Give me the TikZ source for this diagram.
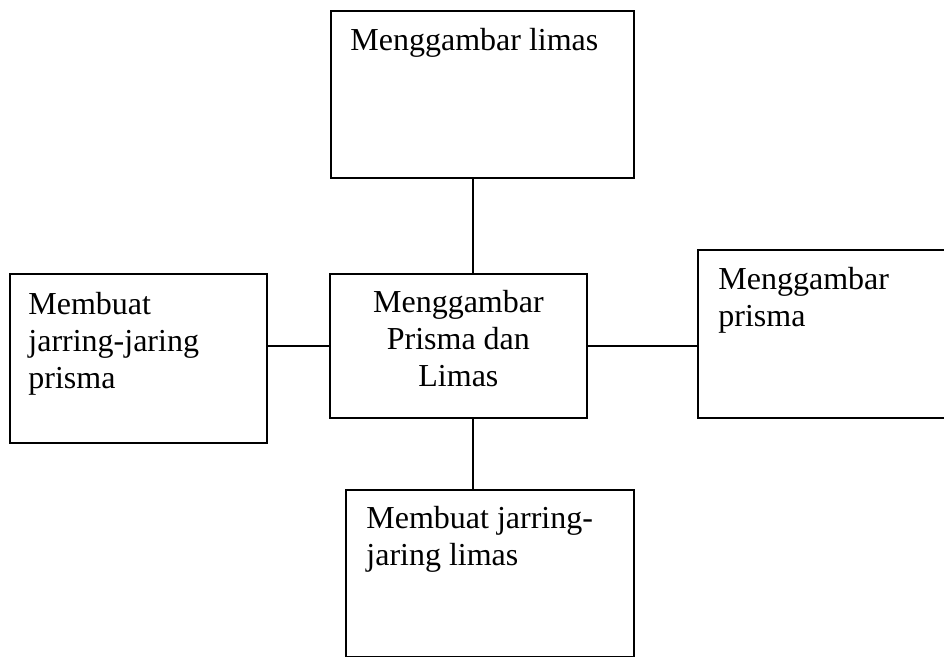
\documentclass[tikz,border=0pt]{standalone}
\usepackage{fontspec}
\setmainfont{Liberation Serif}
\usetikzlibrary{positioning, calc}

\tikzset{
  box/.style={draw, line width=0.9pt, inner sep=0pt, anchor=north west},
  boxtext/.style={font=\fontsize{16}{18.5}\selectfont, inner sep=0pt, align=left, anchor=base west},
  link/.style={draw, line width=0.9pt}
}

\begin{document}
\begin{tikzpicture}[x=0.5pt, y=-0.5pt]
\useasboundingbox (0,0) rectangle (944,657);
% boxes
\node[box, minimum width=151.5pt, minimum height=83.5pt] (top) at (330,10) {};
\node[box, minimum width=128.5pt, minimum height=84.5pt] (left) at (9,273) {};
\node[box, minimum width=128.5pt, minimum height=72pt] (centre) at (329,273) {};
\node[box, minimum width=135pt, minimum height=84pt] (right) at (697,249) {};
\node[box, minimum width=144pt, minimum height=83.5pt] (bottom) at (345,489) {};

% texts (anchored on the baseline of the last line)
\node[boxtext] (top-text) at ([shift={(20,41)}]top.north west) {Menggambar limas};
\node[boxtext] (left-text) at ([shift={(19,116)}]left.north west) {Membuat\\jarring-jaring\\prisma};
\node[boxtext, align=center, anchor=base] (centre-text) at ([shift={(0,114)}]centre.north) {Menggambar\\Prisma dan\\Limas};
\node[boxtext] (right-text) at ([shift={(21,78)}]right.north west) {Menggambar\\prisma};
\node[boxtext] (bottom-text) at ([shift={(21,77)}]bottom.north west) {Membuat jarring-\\jaring limas};

% connectors
\coordinate (spine) at (473,0);
\draw[link] (top.south -| spine) -- (centre.north -| spine);
\draw[link] (centre.south -| spine) -- (bottom.north -| spine);
\draw[link] (left.east |- centre.west) -- (centre.west);
\draw[link] (centre.east) -- (right.west |- centre.east);
\end{tikzpicture}
\end{document}
